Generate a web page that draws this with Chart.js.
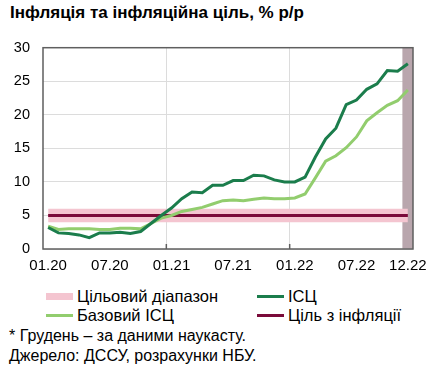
<!DOCTYPE html>
<html>
<head>
<meta charset="utf-8">
<script src="https://cdn.jsdelivr.net/npm/chart.js@4"></script>
<style>
    body { margin: 0; width: 438px; height: 372px; background: #fff; font-family: "Liberation Sans", Arial, sans-serif; color: #000; position: relative; overflow: hidden; }
    .title { position: absolute; left: 10px; top: 3px; font-size: 17px; font-weight: bold; white-space: nowrap; }
    #box { position: absolute; left: 0; top: 26px; width: 438px; height: 253px; }
    .leg { position: absolute; font-size: 16.5px; white-space: nowrap; line-height: 18px; }
    .leg i { display: inline-block; width: 27px; vertical-align: middle; margin-right: 4px; position: relative; top: -1px; }
    .note { position: absolute; left: 9px; font-size: 16px; white-space: nowrap; line-height: 18px; }
</style>
</head>
<body>
<div class="title">Інфляція та інфляційна ціль, % р/р</div>
<div id="box"><canvas id="ch"></canvas></div>

<div class="leg" style="left:46px; top:287px"><i style="height:7px; background:#f4c5d0"></i>Цільовий діапазон</div>
<div class="leg" style="left:46px; top:306px"><i style="height:3px; background:#92cd6e"></i>Базовий ІСЦ</div>
<div class="leg" style="left:257px; top:287px"><i style="height:3px; background:#1b7d4c"></i>ІСЦ</div>
<div class="leg" style="left:257px; top:306px"><i style="height:3px; background:#7a0b3a"></i>Ціль з інфляції</div>

<div class="note" style="top:327px">* Грудень – за даними наукасту.</div>
<div class="note" style="top:347px">Джерело: ДССУ, розрахунки НБУ.</div>

<script>
const months = [
    '01.20','02.20','03.20','04.20','05.20','06.20','07.20','08.20','09.20','10.20','11.20','12.20',
    '01.21','02.21','03.21','04.21','05.21','06.21','07.21','08.21','09.21','10.21','11.21','12.21',
    '01.22','02.22','03.22','04.22','05.22','06.22','07.22','08.22','09.22','10.22','11.22','12.22'
];
const shownTicks = ['01.20','07.20','01.21','07.21','01.22','07.22','12.22'];
const yTicks = [0, 5, 10, 15, 20, 25, 30];

const cpi = [3.2,2.4,2.3,2.1,1.7,2.4,2.4,2.5,2.3,2.6,3.8,5.0,
             6.1,7.5,8.5,8.4,9.5,9.5,10.2,10.2,11.0,10.9,10.3,10.0,
             10.0,10.7,13.7,16.4,18.0,21.5,22.2,23.8,24.6,26.6,26.5,27.6];
const core = [3.4,2.9,3.0,3.0,3.0,2.9,2.9,3.1,3.1,3.0,3.8,4.6,
              5.0,5.6,5.9,6.2,6.7,7.2,7.3,7.2,7.4,7.6,7.5,7.5,
              7.6,8.2,10.6,13.1,13.9,15.1,16.7,19.1,20.3,21.4,22.1,23.7];
const target = months.map(() => 5);
const rangeLow = months.map(() => 4);
const rangeHigh = months.map(() => 6);
const nowcast = months.map(m => m === '12.22' ? 30 : null);
const gridMonths = ['01.21', '01.22'];

const frame = {
    id: 'frame',
    afterDatasetsDraw(c) {
        const a = c.chartArea, ctx = c.ctx;
        ctx.save();
        ctx.strokeStyle = '#5f5f5f';
        ctx.lineWidth = 1.5;
        ctx.strokeRect(a.left, a.top, a.right - a.left, a.bottom - a.top);
        // small inner tick marks at year boundaries
        const x = c.scales.x;
        gridMonths.forEach(m => {
            const i = months.indexOf(m);
            const px = (x.getPixelForValue(i - 1) + x.getPixelForValue(i)) / 2;
            ctx.beginPath();
            ctx.moveTo(px, a.bottom);
            ctx.lineTo(px, a.bottom - 5);
            ctx.stroke();
        });
        ctx.restore();
    }
};

const line = (data, color, w, order) => ({
    type: 'line', data, borderColor: color, borderWidth: w, pointRadius: 0, tension: 0, fill: false, order
});

new Chart(document.getElementById('ch'), {
    data: {
        labels: months,
        datasets: [
            { type: 'bar', data: nowcast, backgroundColor: '#b9a6ad', barPercentage: 1, categoryPercentage: 1, order: 9 },
            { type: 'line', data: rangeLow, borderWidth: 0, pointRadius: 0, fill: false, order: 8 },
            { type: 'line', data: rangeHigh, borderWidth: 0, pointRadius: 0, fill: '-1', backgroundColor: '#f4c5d0', order: 7 },
            line(target, '#7a0b3a', 3, 3),
            line(core, '#92cd6e', 3, 2),
            line(cpi, '#1b7d4c', 3, 1)
        ]
    },
    options: {
        responsive: true, maintainAspectRatio: false, animation: false,
        layout: { padding: { top: 2, right: 25, left: 0, bottom: 0 } },
        plugins: { legend: { display: false }, tooltip: { enabled: false } },
        scales: {
            x: {
                offset: true,
                grid: { offset: true, drawTicks: false, color: ctx => gridMonths.includes(months[ctx.index]) ? '#dcdcdc' : 'rgba(0,0,0,0)' },
                border: { display: false },
                ticks: {
                    autoSkip: false, maxRotation: 0, padding: 8, color: '#000',
                    font: { family: 'Liberation Sans', size: 15 },
                    callback: (v, i) => shownTicks.includes(months[i]) ? months[i] : ''
                },
                afterFit: s => { s.height = 30; }
            },
            y: {
                min: yTicks[0], max: yTicks[yTicks.length - 1],
                afterBuildTicks: s => { s.ticks = yTicks.map(v => ({ value: v })); },
                grid: { drawTicks: false, color: '#dcdcdc' },
                border: { display: false },
                ticks: { padding: 13, color: '#000', font: { family: 'Liberation Sans', size: 14.5 } },
                afterFit: s => { s.width = 43; }
            }
        }
    },
    plugins: [frame]
});
</script>
</body>
</html>
